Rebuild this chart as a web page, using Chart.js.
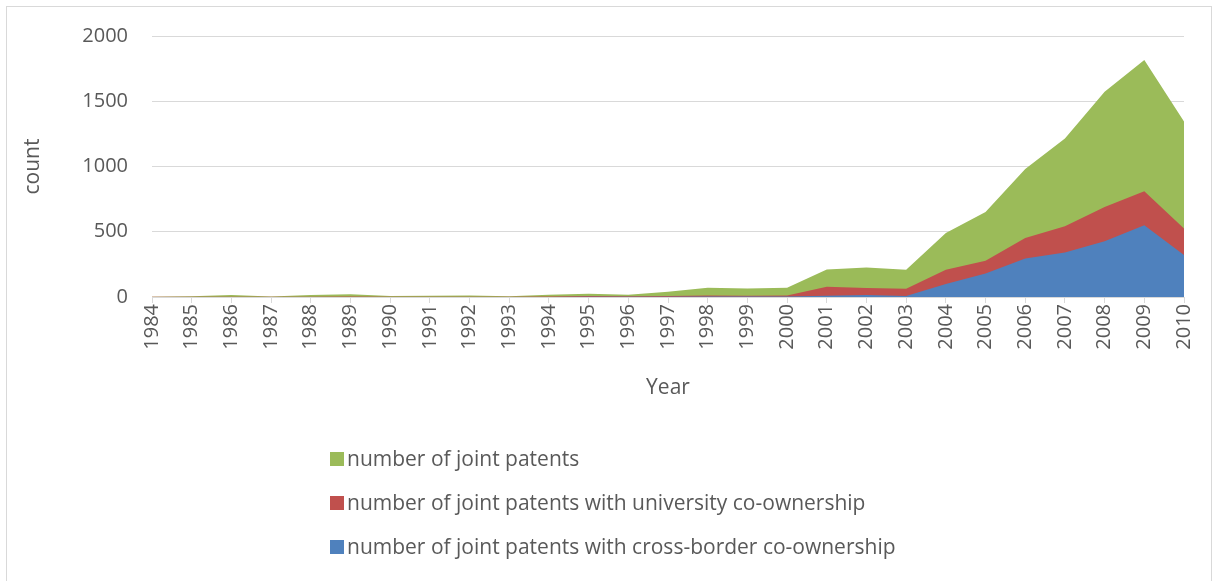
<!DOCTYPE html>
<html>
<head>
<meta charset="utf-8">
<script src="https://cdn.jsdelivr.net/npm/chart.js@4"></script>
<style>
  body { margin: 0; background: #fff; }
  #wrap { position: relative; width: 1222px; height: 581px; overflow: hidden; }
  #frame { position: absolute; left: 6px; top: 6px; width: 1206px; height: 600px; border: 1px solid #d9d9d9; box-sizing: border-box; }
  #out { position: absolute; left: 0; top: 0; }
  #legend { position: absolute; left: 330px; top: 444px; font-family: 'Open Sans', sans-serif; font-size: 21px; color: #595959; }
  #legend div { height: 44px; display: flex; align-items: flex-start; }
  #legend span.box { display: inline-block; width: 14px; height: 14px; margin: 8px 3px 0 0; }
</style>
</head>
<body>
<div id="wrap">
  <div id="frame"></div>
  <canvas id="out" width="1222" height="581"></canvas>
  <div id="legend"></div>
</div>
<script>
const years = ['1984', '1985', '1986', '1987', '1988', '1989', '1990', '1991', '1992', '1993',
  '1994', '1995', '1996', '1997', '1998', '1999', '2000', '2001', '2002', '2003',
  '2004', '2005', '2006', '2007', '2008', '2009', '2010'];

const jointPatents = [2, 5, 15, 3, 15, 22, 8, 10, 12, 5, 18, 25, 18, 40, 70, 65, 70,
  211, 227, 208, 491, 651, 980, 1215, 1573, 1817, 1345];
const universityCoOwned = [1, 1, 2, 1, 2, 3, 1, 2, 2, 1, 3, 8, 5, 8, 12, 10, 12,
  79, 69, 64, 208, 277, 453, 542, 689, 811, 524];
const crossBorderCoOwned = [0, 0, 0, 0, 0, 0, 0, 0, 0, 0, 0, 1, 1, 2, 3, 3, 3,
  10, 15, 8, 99, 181, 295, 341, 427, 550, 321];

const yTicks = [0, 500, 1000, 1500, 2000];

const seriesNames = [
  'number of joint patents',
  'number of joint patents with university co-ownership',
  'number of joint patents with cross-border co-ownership'
];
const colors = ['#9bbb59', '#c0504d', '#4f81bd'];

const font = { family: "'Open Sans', sans-serif", size: 20 };
const textColor = '#595959';
const lineColor = '#d9d9d9';

function area(label, data, color, order) {
  return {
    label: label,
    data: data,
    backgroundColor: color,
    borderColor: color,
    borderWidth: 0,
    pointRadius: 0,
    tension: 0,
    fill: 'origin',
    order: order
  };
}

const ctx = document.getElementById('out').getContext('2d');
const chart = new Chart(ctx, {
  type: 'line',
  data: {
    labels: years,
    datasets: [
      area(seriesNames[0], jointPatents, colors[0], 3),
      area(seriesNames[1], universityCoOwned, colors[1], 2),
      area(seriesNames[2], crossBorderCoOwned, colors[2], 1)
    ]
  },
  options: {
    responsive: false,
    animation: false,
    layout: { padding: { left: 16, top: 35, right: 38, bottom: 176 } },
    plugins: { legend: { display: false }, tooltip: { enabled: false } },
    scales: {
      x: {
        offset: false,
        grid: { drawOnChartArea: false, drawTicks: true, tickLength: 6, color: lineColor },
        border: { color: lineColor },
        ticks: { color: textColor, font: font, minRotation: 90, maxRotation: 90, autoSkip: false, padding: 1 },
        title: { display: true, text: 'Year', color: textColor, font: { family: font.family, size: 21 } },
        afterFit: (scale) => { scale.height = 108; }
      },
      y: {
        min: 0,
        max: 2000,
        grid: { color: lineColor, drawTicks: false },
        border: { display: false },
        afterBuildTicks: (scale) => { scale.ticks = yTicks.map(v => ({ value: v })); },
        ticks: { color: textColor, font: font, padding: 24, callback: (v) => String(v) },
        title: { display: true, text: 'count', color: textColor, font: { family: font.family, size: 21 } },
        afterFit: (scale) => { scale.width = 136; }
      }
    }
  }
});

const legendBox = document.getElementById('legend');
chart.data.datasets.forEach((ds) => {
  const row = document.createElement('div');
  const box = document.createElement('span');
  box.className = 'box';
  box.style.background = ds.backgroundColor;
  row.appendChild(box);
  row.appendChild(document.createTextNode(ds.label));
  legendBox.appendChild(row);
});
</script>
</body>
</html>
